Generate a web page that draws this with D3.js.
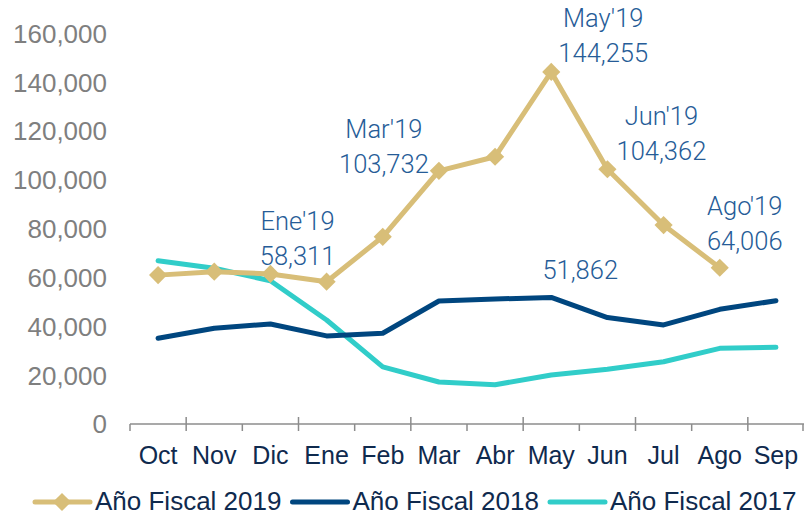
<!DOCTYPE html>
<html>
<head>
<meta charset="utf-8">
<script src="https://cdn.jsdelivr.net/npm/d3@7"></script>
<style>
  body { margin: 0; background: #fff; }
  svg { display: block; }
</style>
</head>
<body>
<div id="plot"></div>
<script>
// Chart data
const months = ["Oct", "Nov", "Dic", "Ene", "Feb", "Mar", "Abr", "May", "Jun", "Jul", "Ago", "Sep"];
const fy2019 = [61000, 62400, 61500, 58311, 76700, 103732, 109500, 144255, 104362, 81500, 64006, null];
const fy2018 = [35100, 39200, 41000, 36100, 37200, 50400, 51200, 51862, 43600, 40600, 47000, 50500];
const fy2017 = [66900, 63800, 58700, 42600, 23400, 17200, 16100, 20100, 22400, 25500, 31000, 31400];
const yTicks = [0, 20000, 40000, 60000, 80000, 100000, 120000, 140000, 160000];
const seriesNames = ["Año Fiscal 2019", "Año Fiscal 2018", "Año Fiscal 2017"];
// annotated points: [month index, first line]
const notes2019 = [[3, "Ene'19"], [5, "Mar'19"], [7, "May'19"], [8, "Jun'19"], [10, "Ago'19"]];
const notes2018 = [[7, ""]];

const width = 804, height = 516;
const colors = ["#D8BE78", "#00467F", "#31CDC9"];

const svg = d3.select("#plot")
    .append("svg")
    .attr("width", width)
    .attr("height", height);

const x = d3.scaleBand()
    .domain(months)
    .range([130, 804]);

const y = d3.scaleLinear()
    .domain([0, 160000])
    .range([424, 33.5]);

const cx = m => x(m) + x.bandwidth() / 2;

// y labels (no axis line)
svg.append("g")
    .selectAll("text")
    .data(yTicks)
    .join("text")
    .attr("x", 107)
    .attr("y", d => y(d))
    .attr("dy", "0.36em")
    .attr("text-anchor", "end")
    .attr("font-family", "'Liberation Sans', Arial, sans-serif")
    .attr("font-size", "26px")
    .attr("fill", "#7F7F7F")
    .text(d => d3.format(",")(d));

// x axis
const xAxis = svg.append("g");
xAxis.append("line")
    .attr("x1", 130).attr("x2", 804)
    .attr("y1", y(0)).attr("y2", y(0))
    .attr("stroke", "#8C8C8C")
    .attr("stroke-width", 1.5);

const bounds = d3.range(months.length + 1);
xAxis.selectAll("line.tick")
    .data(bounds)
    .join("line")
    .attr("class", "tick")
    .attr("x1", i => Math.min(130 + i * x.bandwidth(), 803))
    .attr("x2", i => Math.min(130 + i * x.bandwidth(), 803))
    .attr("y1", i => i % 2 ? y(0) - 7 : y(0))
    .attr("y2", y(0) + 7)
    .attr("stroke", "#8C8C8C")
    .attr("stroke-width", 1.5);

xAxis.selectAll("text")
    .data(months)
    .join("text")
    .attr("x", d => cx(d))
    .attr("y", 464)
    .attr("text-anchor", "middle")
    .attr("font-family", "'Liberation Sans', Arial, sans-serif")
    .attr("font-size", "25px")
    .attr("fill", "#0F2A4E")
    .text(d => d);

// lines
const line = d3.line()
    .defined(d => d != null)
    .x((d, i) => cx(months[i]))
    .y(d => y(d));

[fy2017, fy2018, fy2019].forEach((s, k) => {
    svg.append("path")
        .datum(s)
        .attr("fill", "none")
        .attr("stroke", colors[2 - k])
        .attr("stroke-width", 5)
        .attr("stroke-linejoin", "round")
        .attr("stroke-linecap", "round")
        .attr("d", line);
});

const diamond = d3.symbol(d3.symbolSquare, 165);
svg.append("g")
    .selectAll("path")
    .data(fy2019.map((v, i) => ({ v, m: months[i] })).filter(d => d.v != null))
    .join("path")
    .attr("transform", d => `translate(${cx(d.m)},${y(d.v)}) rotate(45)`)
    .attr("d", diamond)
    .attr("fill", colors[0]);

// annotations
const noteOffsets = {
    "Ene'19": [-29, -17],
    "Mar'19": [-55, 2],
    "May'19": [52, -10],
    "Jun'19": [54, -9],
    "Ago'19": [25, -18]
};
const notes = svg.append("g")
    .attr("font-family", "Roboto, 'Open Sans', sans-serif")
    .attr("font-weight", 300)
    .attr("font-size", "25.5px")
    .attr("fill", "#265C97")
    .attr("text-anchor", "middle");

notes2019.forEach(([i, lbl]) => {
    const [dx, dy] = noteOffsets[lbl];
    const px = cx(months[i]) + dx, py = y(fy2019[i]) + dy;
    notes.append("text").attr("x", px).attr("y", py - 35).text(lbl);
    notes.append("text").attr("x", px).attr("y", py).text(d3.format(",")(fy2019[i]));
});

notes2018.forEach(([i]) => {
    notes.append("text")
        .attr("x", cx(months[i]) + 29)
        .attr("y", y(fy2018[i]) - 18)
        .text(d3.format(",")(fy2018[i]));
});

// legend
const legend = svg.append("g");
seriesNames.forEach((name, k) => {
    const lx = 35 + k * 257.5, ly = 502;
    legend.append("line")
        .attr("x1", lx).attr("x2", lx + 55)
        .attr("y1", ly).attr("y2", ly)
        .attr("stroke", colors[k])
        .attr("stroke-width", 5)
        .attr("stroke-linecap", "round");
    if (k === 0) {
        legend.append("path")
            .attr("transform", `translate(${lx + 27},${ly}) rotate(45)`)
            .attr("d", diamond)
            .attr("fill", colors[0]);
    }
    legend.append("text")
        .attr("x", lx + 60)
        .attr("y", 510)
        .attr("font-family", "'Liberation Sans', Arial, sans-serif")
        .attr("font-size", "26px")
        .attr("fill", "#0F2A4E")
        .text(name);
});
</script>
</body>
</html>
